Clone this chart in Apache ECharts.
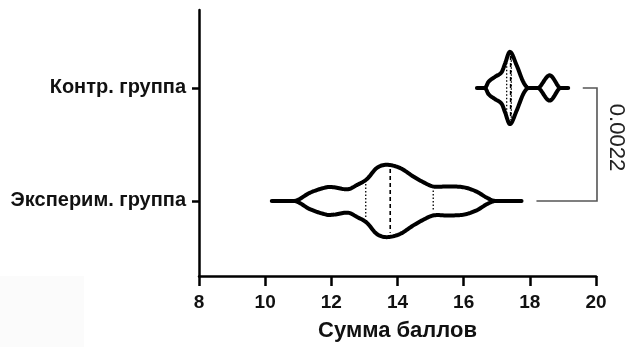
<!DOCTYPE html>
<html>
<head>
<meta charset="utf-8">
<script src="https://cdn.jsdelivr.net/npm/echarts@6/dist/echarts.min.js"></script>
<style>html,body{margin:0;padding:0;background:#fff}#c{width:629px;height:347px}</style>
</head>
<body>
<div id="c"></div>
<script>
// ---- data ----
var groups = ['Эксперим. группа', 'Контр. группа'];
var groupPos = [1, 2];
var xTicks = [8, 10, 12, 14, 16, 18, 20];
var xTitle = 'Сумма баллов';

// Experimental group: density outline (relative half-width)
var expVals = [10.2, 10.9, 11.36, 11.86, 12.06, 12.51, 12.77, 13.07, 13.37, 13.67, 14.08, 14.48, 14.78, 15.08, 15.49, 15.99, 16.39, 16.7, 16.95, 17.75];
var expDens = [0, 0, 0.23, 0.38, 0.38, 0.325, 0.44, 0.6, 0.91, 1.0, 0.91, 0.675, 0.52, 0.40, 0.40, 0.38, 0.26, 0.09, 0, 0];
var expQuart = [13.04, 13.78, 15.08];

// Control group
var ctrlVals = [16.40, 16.65, 16.75, 16.95, 17.15, 17.25, 17.40, 17.6, 17.8, 17.95, 18.26, 18.6, 18.91, 19.16];
var ctrlDens = [0, 0, 0.17, 0.31, 0.44, 0.67, 1.0, 0.63, 0.17, 0, 0, 0.35, 0, 0];
var ctrlQuart = [17.30, 17.42, 17.44];

var pValue = '0.0022';
var bracketStart = [18.2, 19.6]; // x where bracket arm starts for exp / ctrl
var bracketEnd = 20.03;

// ---- chart ----
var violins = [
  {pos: groupPos[0], vals: expVals, dens: expDens, q: expQuart},
  {pos: groupPos[1], vals: ctrlVals, dens: ctrlDens, q: ctrlQuart}
];
var HALF = 0.32; // max half-width in y units

// cardinal (Catmull-Rom style) Hermite spline through the read points
function spline(xs, ys) {
  var n = xs.length, m = [];
  for (var i = 0; i < n; i++) {
    if (i === 0) m[i] = (ys[1] - ys[0]) / (xs[1] - xs[0]);
    else if (i === n - 1) m[i] = (ys[n - 1] - ys[n - 2]) / (xs[n - 1] - xs[n - 2]);
    else m[i] = (ys[i + 1] - ys[i - 1]) / (xs[i + 1] - xs[i - 1]);
  }
  return function (x) {
    for (var k = 0; k < n - 1; k++) {
      if (x <= xs[k + 1] || k === n - 2) {
        var h = xs[k + 1] - xs[k], t = (x - xs[k]) / h;
        var t2 = t * t, t3 = t2 * t;
        return (2 * t3 - 3 * t2 + 1) * ys[k] + (t3 - 2 * t2 + t) * h * m[k] +
          (-2 * t3 + 3 * t2) * ys[k + 1] + (t3 - t2) * h * m[k + 1];
      }
    }
    return 0;
  };
}

var chart = echarts.init(document.getElementById('c'), null, {renderer: 'canvas'});
var FONT = '"Liberation Sans", Arial, sans-serif';

chart.setOption({
  animation: false,
  backgroundColor: '#fff',
  grid: {left: 199, right: 33, top: 10, bottom: 71, containLabel: false},
  xAxis: {
    type: 'value', min: 8, max: 20, interval: 2,
    name: xTitle, nameLocation: 'middle', nameGap: 44,
    nameTextStyle: {fontFamily: FONT, fontWeight: 'bold', fontSize: 22, color: '#111'},
    axisLine: {show: true, lineStyle: {color: '#000', width: 2.5}},
    axisTick: {show: true, length: 10, lineStyle: {color: '#000', width: 2.5}},
    axisLabel: {margin: 17, fontFamily: FONT, fontWeight: 'bold', fontSize: 19, color: '#111',
      customValues: xTicks},
    splitLine: {show: false}
  },
  yAxis: {
    type: 'value', min: 0.336, max: 2.69,
    axisLine: {show: true, lineStyle: {color: '#000', width: 2.5}},
    axisTick: {show: true, length: 7, lineStyle: {color: '#000', width: 2.5}, customValues: groupPos},
    axisLabel: {margin: 13, fontFamily: FONT, fontWeight: 'bold', fontSize: 20, color: '#111',
      customValues: groupPos,
      formatter: function (v) { var i = groupPos.indexOf(v); return i >= 0 ? groups[i] : ''; }},
    splitLine: {show: false}
  },
  series: [{
    type: 'custom',
    clip: false,
    data: [0, 1],
    renderItem: function (params, api) {
      var v = violins[api.value(0)];
      var f = spline(v.vals, v.dens);
      var upper = [], lower = [];
      var x0 = v.vals[0], x1 = v.vals[v.vals.length - 1], N = 200;
      for (var i = 0; i <= N; i++) {
        var x = x0 + (x1 - x0) * i / N;
        var dd = Math.max(0, f(x));
        upper.push(api.coord([x, v.pos + dd * HALF]));
        lower.push(api.coord([x, v.pos - dd * HALF]));
      }
      var pts = upper.concat(lower.reverse());
      var children = [{
        type: 'polygon',
        shape: {points: pts},
        style: {fill: 'rgba(255,255,255,0)', stroke: '#000', lineWidth: 4, lineJoin: 'round', lineCap: 'round'}
      }];
      v.q.forEach(function (qx, k) {
        var d = Math.max(0, f(qx)) * HALF - 4 / 113;
        var a = api.coord([qx, v.pos + d]);
        var b = api.coord([qx, v.pos - d]);
        children.push({
          type: 'line',
          shape: {x1: a[0], y1: a[1], x2: b[0], y2: b[1]},
          style: {stroke: '#000', lineWidth: k === 1 ? 1.6 : 1.3,
            lineDash: k === 1 ? [4, 3] : [1.5, 2]}
        });
      });
      return {type: 'group', children: children};
    }
  }, {
    type: 'custom',
    clip: false,
    data: [0],
    renderItem: function (params, api) {
      var a = api.coord([bracketStart[0], groupPos[0]]);
      var b = api.coord([bracketEnd, groupPos[0]]);
      var c = api.coord([bracketEnd, groupPos[1]]);
      var d = api.coord([bracketStart[1], groupPos[1]]);
      var mid = api.coord([bracketEnd, (groupPos[0] + groupPos[1]) / 2]);
      return {type: 'group', children: [{
        type: 'polyline',
        shape: {points: [a, b, c, d]},
        style: {stroke: '#555', lineWidth: 1.6, fill: null}
      }, {
        type: 'text',
        x: mid[0] + 19, y: mid[1] - 7,
        rotation: -Math.PI / 2,
        style: {text: pValue, fontFamily: FONT, fontSize: 22, fill: '#222',
          align: 'center', verticalAlign: 'middle'}
      }]};
    }
  }],
  graphic: [{
    type: 'rect', left: 0, top: 276, z: -10,
    shape: {width: 84, height: 71},
    style: {fill: '#fbfbfb'}
  }]
});
</script>
</body>
</html>
